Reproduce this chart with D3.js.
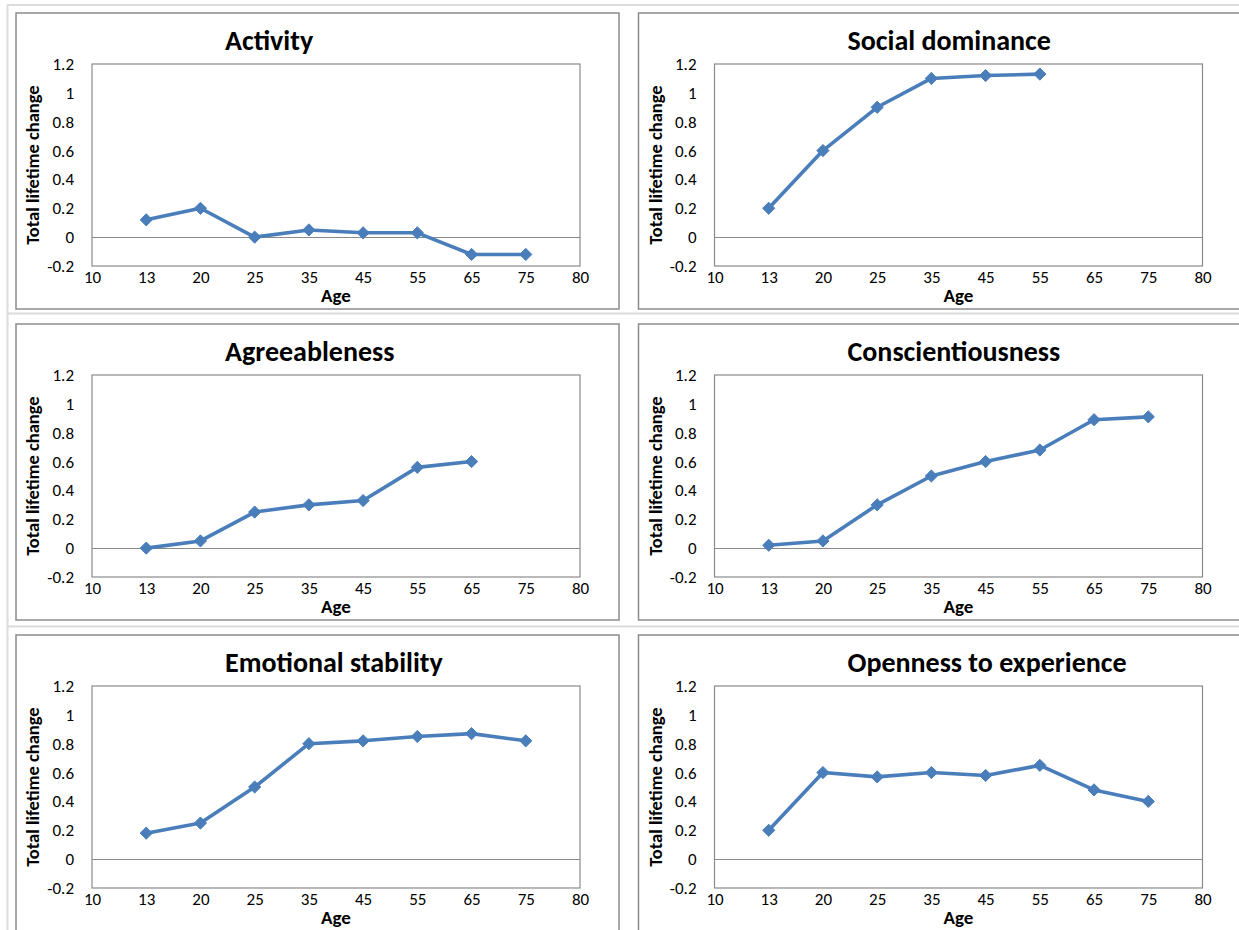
<!DOCTYPE html>
<html>
<head>
<meta charset="utf-8">
<script src="https://cdn.jsdelivr.net/npm/d3@7"></script>
<style>
  html, body { margin: 0; padding: 0; background: #fff; }
  svg { display: block; }
  text { font-family: Carlito, Calibri, Lato, "Open Sans", sans-serif; fill: #000; }
</style>
</head>
<body>
<svg id="chart" width="1239" height="930"></svg>
<script>
// ---- Data ----
const ageLabels = ["10", "13", "20", "25", "35", "45", "55", "65", "75", "80"];
const dataAges = ["13", "20", "25", "35", "45", "55", "65", "75"];
const yTicks = [-0.2, 0, 0.2, 0.4, 0.6, 0.8, 1.0, 1.2];
const yTickLabels = ["-0.2", "0", "0.2", "0.4", "0.6", "0.8", "1", "1.2"];

const titles = ["Activity", "Social dominance", "Agreeableness", "Conscientiousness", "Emotional stability", "Openness to experience"];
const activity = [0.12, 0.20, 0.00, 0.05, 0.03, 0.03, -0.12, -0.12];
const socialDominance = [0.20, 0.60, 0.90, 1.10, 1.12, 1.13];
const agreeableness = [0.00, 0.05, 0.25, 0.30, 0.33, 0.56, 0.60];
const conscientiousness = [0.02, 0.05, 0.30, 0.50, 0.60, 0.68, 0.89, 0.91];
const emotionalStability = [0.18, 0.25, 0.50, 0.80, 0.82, 0.85, 0.87, 0.82];
const openness = [0.20, 0.60, 0.57, 0.60, 0.58, 0.65, 0.48, 0.40];
const seriesList = [activity, socialDominance, agreeableness, conscientiousness, emotionalStability, openness];

// ---- Layout ----
const svg = d3.select("#chart");
const colLefts = [16, 638.5];
const rowTops = [13, 324, 635];
const frameW = 603, frameH = 296;
const plotOff = { left: 76, top: 51, width: 488, height: 202 };
const lineColor = "#4a7ebb";
const fontFam = "Carlito, Calibri, Lato, sans-serif";

// background separator lines
const bg = svg.append("g");
[5, 313.5, 626.5].forEach(y => bg.append("line").attr("x1", 7).attr("x2", 1239).attr("y1", y).attr("y2", y).attr("stroke", "#dcdcdc").attr("stroke-width", 2));
bg.append("line").attr("x1", 7.5).attr("x2", 7.5).attr("y1", 5).attr("y2", 930).attr("stroke", "#dcdcdc").attr("stroke-width", 2);

titles.forEach((title, i) => {
  const fx = colLefts[i % 2], fy = rowTops[Math.floor(i / 2)];
  const g = svg.append("g").attr("transform", `translate(${fx},${fy})`);
  g.append("rect").attr("x", 0).attr("y", 0).attr("width", frameW).attr("height", frameH)
    .attr("fill", "#fff").attr("stroke", "#8c8c8c").attr("stroke-width", 1.5);

  const x = d3.scalePoint().domain(ageLabels).range([plotOff.left, plotOff.left + plotOff.width]);
  const y = d3.scaleLinear().domain([-0.2, 1.2]).range([plotOff.top + plotOff.height, plotOff.top]);

  // plot area border
  g.append("rect").attr("x", plotOff.left).attr("y", plotOff.top)
    .attr("width", plotOff.width).attr("height", plotOff.height)
    .attr("fill", "none").attr("stroke", "#8a8a8a").attr("stroke-width", 1.2);

  // zero line
  g.append("line").attr("x1", plotOff.left).attr("x2", plotOff.left + plotOff.width)
    .attr("y1", Math.round(y(0)) + 0.5).attr("y2", Math.round(y(0)) + 0.5)
    .attr("stroke", "#8a8a8a").attr("stroke-width", 1.2);

  // y axis
  const yAxis = d3.axisLeft(y).tickValues(yTicks).tickSize(0).tickPadding(18)
    .tickFormat((d, k) => yTickLabels[k]);
  const ya = g.append("g").attr("transform", `translate(${plotOff.left},0)`).call(yAxis);
  ya.select(".domain").remove();
  ya.selectAll("text").attr("font-size", 17).attr("fill", "#000").attr("font-family", fontFam);

  // x axis
  const xAxis = d3.axisBottom(x).tickSize(0).tickPadding(5);
  const xa = g.append("g").attr("transform", `translate(0,${plotOff.top + plotOff.height})`).call(xAxis);
  xa.select(".domain").remove();
  xa.selectAll("text").attr("font-size", 17).attr("fill", "#000").attr("font-family", fontFam);

  // title
  g.append("text").attr("x", plotOff.left + 133).attr("y", 37)
    .attr("font-size", 28).attr("font-weight", "bold").text(title);

  // axis titles
  g.append("text").attr("transform", `translate(${23},${plotOff.top + plotOff.height / 2}) rotate(-90)`)
    .attr("text-anchor", "middle").attr("font-size", 18.5).attr("font-weight", "bold")
    .text("Total lifetime change");
  g.append("text").attr("x", plotOff.left + plotOff.width / 2).attr("y", plotOff.top + plotOff.height + 36)
    .attr("text-anchor", "middle").attr("font-size", 19).attr("font-weight", "bold").text("Age");

  // series
  const vals = seriesList[i];
  const pts = vals.map((v, k) => ({ age: dataAges[k], v }));
  const line = d3.line().x(d => x(d.age)).y(d => y(d.v));
  g.append("path").datum(pts).attr("d", line).attr("fill", "none")
    .attr("stroke", lineColor).attr("stroke-width", 3.6).attr("stroke-linejoin", "round");
  const sym = d3.symbol().type(d3.symbolDiamond2).size(95);
  g.selectAll(".mk").data(pts).enter().append("path")
    .attr("transform", d => `translate(${x(d.age)},${y(d.v)})`)
    .attr("d", sym).attr("fill", lineColor).attr("stroke", lineColor).attr("stroke-width", 1);
});
</script>
</body>
</html>
